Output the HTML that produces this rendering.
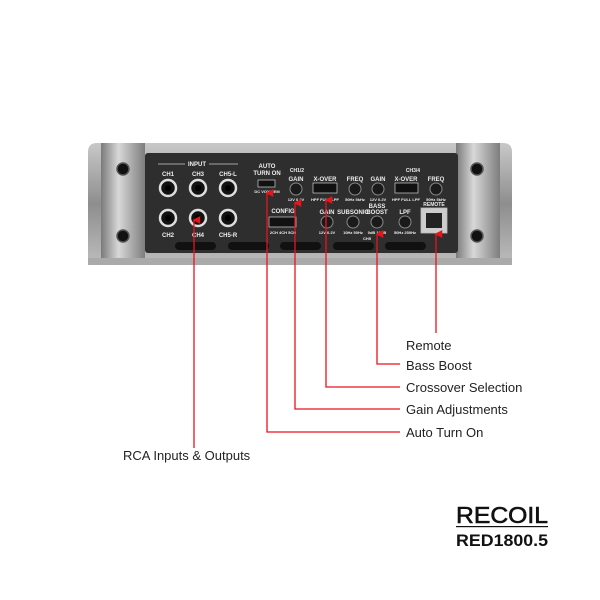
<!DOCTYPE html>
<html><head><style>
body{margin:0;background:#fff;}
svg{display:block;}
text{font-family:"Liberation Sans",sans-serif;}
</style></head><body>
<svg width="600" height="600" viewBox="0 0 600 600" xmlns="http://www.w3.org/2000/svg">
<defs>
<linearGradient id="sil" x1="0" y1="0" x2="0" y2="1">
<stop offset="0" stop-color="#c8c8c8"/><stop offset="0.5" stop-color="#8e8e8e"/><stop offset="1" stop-color="#bdbdbd"/>
</linearGradient>
<linearGradient id="fl" x1="0" y1="0" x2="1" y2="0">
<stop offset="0" stop-color="#7a7a7a"/><stop offset="0.4" stop-color="#d8d8d8"/><stop offset="1" stop-color="#7d7d7d"/>
</linearGradient>
<marker id="ar" viewBox="0 0 10 10" refX="5" refY="2" markerWidth="6" markerHeight="7" orient="auto-start-reverse"><path d="M0,10 L5,0 L10,10 Z" fill="#e8141c"/></marker>
</defs>
<path d="M88,152 Q88,143 97,143 L503,143 Q512,143 512,152 L512,262 Q512,265 505,265 L95,265 Q88,265 88,262 Z" fill="url(#sil)"/>
<rect x="101" y="143" width="44" height="122" fill="url(#fl)"/>
<rect x="456" y="143" width="44" height="122" fill="url(#fl)"/>
<rect x="88" y="258" width="424" height="7" fill="#aaa"/>
<rect x="145" y="153" width="313" height="100" rx="3" fill="#2e2e2e"/>
<g fill="#111" stroke="#555" stroke-width="1.5">
<circle cx="123" cy="169" r="6"/><circle cx="123" cy="236" r="6"/>
<circle cx="477" cy="169" r="6"/><circle cx="477" cy="236" r="6"/>
</g>
<g fill="#111">
<rect x="175" y="242" width="41" height="8" rx="4"/><rect x="228" y="242" width="41" height="8" rx="4"/>
<rect x="280" y="242" width="41" height="8" rx="4"/><rect x="333" y="242" width="41" height="8" rx="4"/>
<rect x="385" y="242" width="41" height="8" rx="4"/>
</g>
<g fill="#eee" font-size="6" font-weight="bold" text-anchor="middle">
<text x="197" y="166">INPUT</text>
<line x1="158" y1="164" x2="185" y2="164" stroke="#ccc" stroke-width="0.7"/>
<line x1="209" y1="164" x2="238" y2="164" stroke="#ccc" stroke-width="0.7"/>
<text x="168" y="176">CH1</text><text x="198" y="176">CH3</text><text x="228" y="176">CH5-L</text>
<text x="168" y="237">CH2</text><text x="198" y="237">CH4</text><text x="228" y="237">CH5-R</text>
<text x="267" y="168">AUTO</text><text x="267" y="175">TURN ON</text>
<text x="297" y="172" font-size="5">CH1/2</text><text x="413" y="172" font-size="5">CH3/4</text>
<text x="296" y="181">GAIN</text><text x="325" y="181">X-OVER</text><text x="355" y="181">FREQ</text>
<text x="378" y="181">GAIN</text><text x="406" y="181">X-OVER</text><text x="436" y="181">FREQ</text>
<text x="327" y="214">GAIN</text><text x="353" y="214">SUBSONIC</text><text x="377" y="208">BASS</text><text x="377" y="214">BOOST</text><text x="405" y="214">LPF</text>
<text x="283" y="213">CONFIG</text><text x="434" y="206" font-size="5">REMOTE</text>
<g font-size="4">
<text x="267" y="193">DC VOX REM</text><text x="296" y="201">12V 0.2V</text><text x="325" y="201">HPF FULL LPF</text>
<text x="355" y="201">50Hz 5kHz</text><text x="378" y="201">12V 0.2V</text><text x="406" y="201">HPF FULL LPF</text><text x="436" y="201">50Hz 5kHz</text>
<text x="283" y="234">2CH 4CH 5CH</text><text x="327" y="234">12V 0.2V</text><text x="353" y="234">10Hz 50Hz</text>
<text x="377" y="234">0dB 18dB</text><text x="405" y="234">50Hz 250Hz</text><text x="367" y="240">CH5</text>
</g>
</g>
<g fill="#111" stroke="#ddd" stroke-width="2.5">
<circle cx="168" cy="188" r="8"/><circle cx="198" cy="188" r="8"/><circle cx="228" cy="188" r="8"/>
<circle cx="168" cy="218" r="8"/><circle cx="198" cy="218" r="8"/><circle cx="228" cy="218" r="8"/>
</g>
<g fill="#000"><circle cx="168" cy="188" r="3"/><circle cx="198" cy="188" r="3"/><circle cx="228" cy="188" r="3"/><circle cx="168" cy="218" r="3"/><circle cx="198" cy="218" r="3"/><circle cx="228" cy="218" r="3"/></g>
<g fill="#1a1a1a" stroke="#888" stroke-width="1">
<circle cx="296" cy="189" r="6"/><circle cx="355" cy="189" r="6"/><circle cx="378" cy="189" r="6"/><circle cx="436" cy="189" r="6"/>
<circle cx="327" cy="222" r="6"/><circle cx="353" cy="222" r="6"/><circle cx="377" cy="222" r="6"/><circle cx="405" cy="222" r="6"/>
</g>
<g fill="#111" stroke="#bbb" stroke-width="0.8">
<rect x="313" y="183" width="24" height="10"/><rect x="395" y="183" width="23" height="10"/>
<rect x="258" y="180" width="17" height="7"/><rect x="269" y="217" width="27" height="10"/>
<rect x="421" y="208" width="26" height="25" fill="#ccc"/>
</g>
<rect x="426" y="213" width="16" height="15" fill="#222"/>
<g stroke="#e8141c" stroke-width="1.3" fill="none">
<path d="M194,448 L194,220" marker-end="url(#ar)"/>
<path d="M400,432 L267,432 L267,193" marker-end="url(#ar)"/>
<path d="M400,409 L295,409 L295,203" marker-end="url(#ar)"/>
<path d="M400,387 L326,387 L326,200" marker-end="url(#ar)"/>
<path d="M400,364 L377,364 L377,234" marker-end="url(#ar)"/>
<path d="M436,333 L436,234" marker-end="url(#ar)"/>
</g>
<g font-size="13" fill="#222">
<text x="406" y="350">Remote</text>
<text x="406" y="370">Bass Boost</text>
<text x="406" y="392">Crossover Selection</text>
<text x="406" y="414">Gain Adjustments</text>
<text x="406" y="437">Auto Turn On</text>
<text x="123" y="460">RCA Inputs &amp; Outputs</text>
</g>
<text x="456" y="523" font-size="23" fill="#111" stroke="#111" stroke-width="0.6" textLength="92" lengthAdjust="spacingAndGlyphs">RECOIL</text>
<rect x="456" y="526" width="92" height="1.2" fill="#111"/>
<text x="456" y="546" font-size="17" font-weight="bold" fill="#111" textLength="92" lengthAdjust="spacingAndGlyphs">RED1800.5</text>
</svg>
</body></html>
